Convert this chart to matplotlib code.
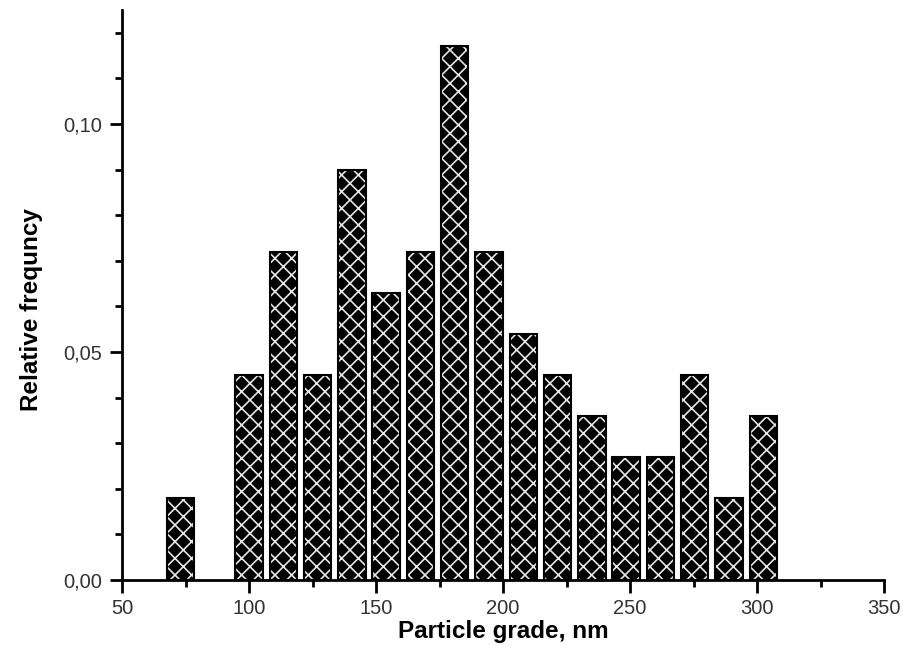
import matplotlib
matplotlib.use("Agg")
import matplotlib.pyplot as plt
from matplotlib.ticker import MultipleLocator, FuncFormatter

# Data
bin_centers = [73, 86.5, 100, 113.5, 127, 140.5, 154, 167.5, 181, 194.5,
               208, 221.5, 235, 248.5, 262, 275.5, 289, 302.5]
rel_freq = [0.018, 0.0, 0.045, 0.072, 0.045, 0.090, 0.063, 0.072, 0.117, 0.072,
            0.054, 0.045, 0.036, 0.027, 0.027, 0.045, 0.018, 0.036]
x_label = "Particle grade, nm"
y_label = "Relative frequncy"

plt.rcParams['font.family'] = ['Liberation Sans', 'DejaVu Sans']
plt.rcParams['hatch.linewidth'] = 1.2

fig = plt.figure(figsize=(9.12, 6.5), dpi=100)
ax = fig.add_axes([0.1338, 0.1077, 0.9693 - 0.1338, 0.8769])

bw = 10.8
xs = [c for c, v in zip(bin_centers, rel_freq) if v > 0]
vs = [v for v in rel_freq if v > 0]
ax.bar(xs, vs, width=bw, color='black', edgecolor='#e6e6e6', hatch='xx',
       linewidth=0, zorder=2)
ax.bar(xs, vs, width=bw, fill=False, edgecolor='black', linewidth=1.5, zorder=3)

ax.set_xlim(50, 350)
ax.set_ylim(0, 0.125)
ax.xaxis.set_major_locator(MultipleLocator(50))
ax.xaxis.set_minor_locator(MultipleLocator(25))
ax.yaxis.set_major_locator(MultipleLocator(0.05))
ax.yaxis.set_minor_locator(MultipleLocator(0.01))
ax.yaxis.set_major_formatter(FuncFormatter(lambda v, p: f"{v:.2f}".replace('.', ',')))

for s in ['top', 'right']:
    ax.spines[s].set_visible(False)
for s in ['left', 'bottom']:
    ax.spines[s].set_linewidth(2)

ax.tick_params(axis='both', which='major', direction='out', length=9, width=2,
               labelsize=14.5, colors='black', pad=5)
ax.tick_params(axis='both', which='minor', direction='out', length=5, width=2)
for lab in ax.get_xticklabels() + ax.get_yticklabels():
    lab.set_color('#333333')

ax.set_xlabel(x_label, fontsize=17.5, fontweight='bold')
ax.xaxis.set_label_coords(0.5, -0.071)
ax.xaxis.label.set_verticalalignment('top')
ax.set_ylabel(y_label, fontsize=17.5, fontweight='bold')
ax.yaxis.set_label_coords(-0.119, 0.474)
ax.yaxis.label.set_verticalalignment('center')

fig.savefig("out.png", dpi=100, facecolor='white')
